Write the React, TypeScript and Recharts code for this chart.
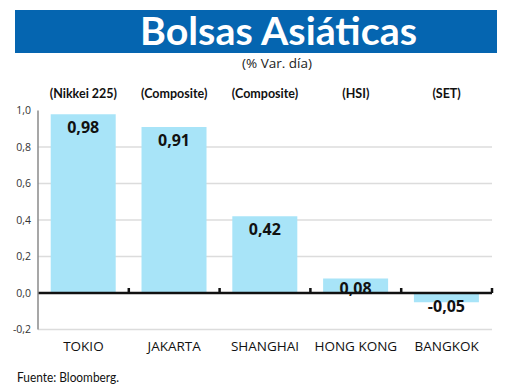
import { BarChart, Bar, XAxis, YAxis, CartesianGrid, ReferenceLine, LabelList } from 'recharts';

const categories = ['TOKIO', 'JAKARTA', 'SHANGHAI', 'HONG KONG', 'BANGKOK'];
const indexNames = ['(Nikkei 225)', '(Composite)', '(Composite)', '(HSI)', '(SET)'];
const changes = [0.98, 0.91, 0.42, 0.08, -0.05];
const yTicks = [-0.2, 0, 0.2, 0.4, 0.6, 0.8, 1.0];
const gridValues = [-0.2, 0.2, 0.4, 0.6, 0.8];

const data = categories.map((city, i) => ({ city, index: indexNames[i], value: changes[i] }));

const BAR_FILL = '#a8e4f8';
const TITLE_BLUE = '#0565b0';

const fmt = (v: number) => v.toFixed(1).replace('.', ',');
const fmt2 = (v: number) => v.toFixed(2).replace('.', ',');

// zero line with small upward ticks between categories
function ZeroAxis(props: any) {
  const { x1, y1, x2 } = props;
  const n = data.length;
  const step = (x2 - x1) / n;
  let d = `M${x1},${y1}L${x2},${y1}`;
  for (let i = 1; i <= n; i++) {
    const x = x1 + i * step;
    d += `M${x},${y1}L${x},${y1 - 5}`;
  }
  return <path d={d} stroke="#111" strokeWidth={2.5} fill="none" />;
}

function ValueLabel(props: any) {
  const { x, y, width, height, value } = props;
  const top = Math.min(y, y + height);
  const bottom = Math.max(y, y + height);
  const cy = value >= 0 ? Math.min(top + 13, bottom - 5) : bottom + 4;
  return (
    <text
      x={x + width / 2}
      y={cy}
      textAnchor="middle"
      dominantBaseline="central"
      fontFamily="'Open Sans'"
      fontWeight={700}
      fontSize={16}
      fill="#111"
    >
      {fmt2(value)}
    </text>
  );
}

export default function App() {
  return (
    <div style={{ position: 'absolute', left: 0, top: 0, width: 520, height: 390, background: '#fff' }}>
      <svg width={520} height={390} style={{ position: 'absolute', left: 0, top: 0 }}>
        <rect x={15} y={10} width={482} height={43} fill={TITLE_BLUE} />
        <text
          x={278.5}
          y={45}
          textAnchor="middle"
          fontFamily="Lato"
          fontWeight={700}
          fontSize={39}
          fill="#fff"
          textLength={277}
          lengthAdjust="spacingAndGlyphs"
        >
          Bolsas Asiáticas
        </text>
        <text x={277} y={68} textAnchor="middle" fontFamily="'Open Sans'" fontSize={13.5} fill="#222">
          (% Var. día)
        </text>
        <text
          x={17}
          y={381.5}
          fontFamily="Lato"
          fontSize={13}
          fill="#111"
          textLength={102}
          lengthAdjust="spacingAndGlyphs"
        >
          Fuente: Bloomberg.
        </text>
      </svg>
      <div style={{ position: 'absolute', left: 0, top: 0 }}>
        <BarChart
          width={520}
          height={390}
          data={data}
          margin={{ top: 80.5, right: 28, bottom: 30.5, left: 8 }}
          barCategoryGap="14%"
        >
          <CartesianGrid
            vertical={false}
            horizontalValues={gridValues}
            stroke="#dcdcdc"
            strokeWidth={1.5}
          />
          <XAxis
            dataKey="city"
            axisLine={false}
            tickLine={false}
            tickSize={0}
            tickMargin={12}
            height={30}
            interval={0}
            tick={{ fontSize: 13.5, fill: '#111', fontFamily: "'Open Sans'" }}
          />
          <XAxis
            xAxisId="top"
            orientation="top"
            dataKey="index"
            axisLine={false}
            tickLine={false}
            tickSize={0}
            tickMargin={12.5}
            height={30}
            interval={0}
            tick={{ fontSize: 12.5, fill: '#111', fontWeight: 700, fontFamily: 'Lato' }}
          />
          <YAxis
            width={30}
            domain={[-0.2, 1.0]}
            ticks={yTicks}
            tickFormatter={fmt}
            axisLine={{ stroke: '#8a8a8a', strokeWidth: 1.5 }}
            tickLine={false}
            tickSize={0}
            tickMargin={7}
            interval={0}
            tick={{ fontSize: 10.5, fill: '#333', fontFamily: "'Open Sans'" }}
          />
          <Bar dataKey="value" fill={BAR_FILL} isAnimationActive={false}>
            <LabelList dataKey="value" content={ValueLabel} />
          </Bar>
          <ReferenceLine y={0} shape={ZeroAxis} />
        </BarChart>
      </div>
    </div>
  );
}
